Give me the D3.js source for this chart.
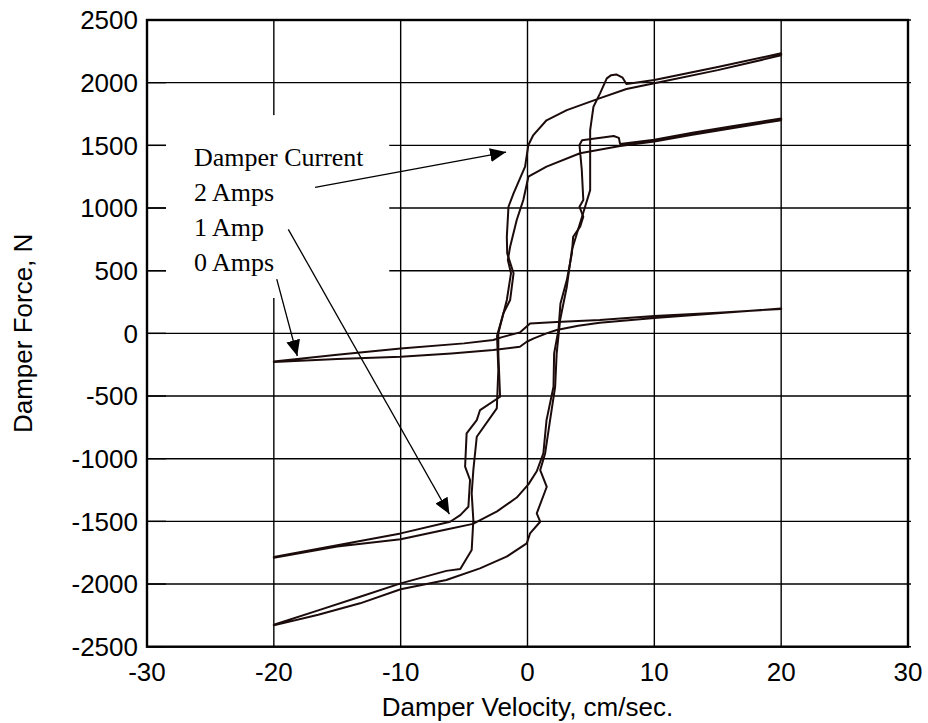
<!DOCTYPE html>
<html>
<head>
<meta charset="utf-8">
<script src="https://cdn.jsdelivr.net/npm/d3@7"></script>
<style>
  body { margin: 0; background: #fff; }
  svg { display: block; }
</style>
</head>
<body>
<div id="chart"></div>
<script>
// axis ticks
var xTicks = [-30, -20, -10, 0, 10, 20, 30];
var yTicks = [-2500, -2000, -1500, -1000, -500, 0, 500, 1000, 1500, 2000, 2500];

// 2 Amps loop, [velocity cm/s, force N]
var amps2Accel = [[-20,-2330],[-16.5,-2245],[-13.2,-2154],[-10,-2042],[-6.4,-1968],[-3.75,-1875],[-1.65,-1782],
  [-0.06,-1676],[0.2,-1596],[1.0,-1503],[0.73,-1436],[1.52,-1224],[1.0,-1091],[1.39,-958],[1.78,-692],
  [2.18,-426],[2.3,-160],[2.57,106],[3.1,372],[3.5,665],[3.9,798],[4.3,930],[4.54,1010],[4.94,1143],
  [4.94,1622],[5.2,1808],[5.72,1915],[6.25,2034],[6.6,2060],[7.0,2066],[7.5,2040],[7.8,1990],
  [10,2021],[15,2125],[20,2234]];
var amps2Decel = [[20,2218],[15,2100],[10,1995],[7.8,1950],[5.67,1875],[3.1,1781],[1.5,1700],[0.46,1582],
  [0.07,1503],[-0.19,1330],[-1.1,1117],[-1.5,1010],[-1.63,771],[-1.6,638],[-1.1,479],[-1.37,266],
  [-1.9,160],[-2.4,-20],[-2.3,-293],[-2.42,-599],[-4.0,-825],[-4.27,-1091],[-4.4,-1277],[-4.27,-1490],
  [-4.4,-1729],[-5.3,-1880],[-6.4,-1895],[-10,-1995],[-13.2,-2101],[-16.5,-2210],[-20,-2325]];

// 1 Amp loop
var amps1Accel = [[-20,-1790],[-15,-1700],[-10,-1643],[-6.4,-1565],[-4.3,-1520],[-2.4,-1420],[-0.85,-1310],
  [0.07,-1205],[0.73,-1100],[1.25,-958],[1.5,-692],[2.05,-426],[2.1,-160],[2.44,27],[2.6,239],[3.1,425],
  [3.5,638],[3.6,771],[4.15,851],[4.4,930],[4.1,1010],[4.4,1064],[4.28,1303],[4.1,1502],[4.3,1540],
  [6.8,1575],[7.2,1560],[7.3,1510],[10,1545],[13,1600],[16,1650],[20,1715]];
var amps1Decel = [[20,1700],[16,1635],[13,1585],[10,1530],[7.3,1495],[4.14,1437],[1.5,1330],[0.5,1275],
  [0.07,1250],[-0.33,1064],[-0.85,904],[-1.37,691],[-1.55,585],[-1.3,480],[-1.63,266],[-2.3,0],
  [-2.3,-160],[-2.16,-506],[-3.74,-612],[-4.0,-692],[-4.8,-798],[-4.92,-1064],[-4.53,-1170],
  [-4.66,-1383],[-5.3,-1450],[-6.1,-1503],[-10,-1596],[-15,-1690],[-20,-1785]];

// 0 Amps loop
var amps0Accel = [[-20,-228],[-15,-205],[-10,-187],[-6,-160],[-2.7,-133],[-0.6,-107],[-0.06,-67],
  [0.5,-40],[1.5,0],[2.3,27],[4,60],[5.7,85],[10,122],[15,160],[20,199]];
var amps0Decel = [[20,195],[15,165],[10,138],[5.7,106],[2.3,90],[0.2,78],[-0.58,8],[-2,-30],
  [-2.7,-53],[-5,-80],[-10,-120],[-15,-170],[-20,-224]];

var loops = [amps2Accel.concat(amps2Decel), amps1Accel.concat(amps1Decel), amps0Accel.concat(amps0Decel)];

// annotation
var noteLines = ["Damper Current", "2 Amps", "1 Amp", "0 Amps"];
var noteX = -26.3;
var noteY = [1335, 1056, 773, 494];
var noteBox = {x0: -28.5, x1: -10.9, y0: 1741, y1: 282};
var arrows = [
  {from: [-16.75, 1165], to: [-1.69, 1446]},
  {from: [-18.86, 830], to: [-6.16, -1442]},
  {from: [-19.77, 433], to: [-18.15, -181]}
];

var width = 928, height = 723;
var plotLeft = 147, plotRight = 908, plotTop = 20, plotBottom = 646.7;
var ink = "#1c0b0b";

var svg = d3.select("#chart").append("svg")
  .attr("width", width)
  .attr("height", height);

var x = d3.scaleLinear().domain([-30, 30]).range([plotLeft, plotRight]);
var y = d3.scaleLinear().domain([-2500, 2500]).range([plotBottom, plotTop]);

// grid
svg.append("g").selectAll("line").data(xTicks).enter().append("line")
  .attr("x1", function(d) { return x(d); }).attr("x2", function(d) { return x(d); })
  .attr("y1", plotTop).attr("y2", plotBottom)
  .attr("stroke", "#000").attr("stroke-width", 1.4);
svg.append("g").selectAll("line").data(yTicks).enter().append("line")
  .attr("x1", plotLeft).attr("x2", plotRight + 3)
  .attr("y1", function(d) { return y(d); }).attr("y2", function(d) { return y(d); })
  .attr("stroke", "#000").attr("stroke-width", 1.4);

// white box behind the note
svg.append("rect")
  .attr("x", x(noteBox.x0)).attr("y", y(noteBox.y0))
  .attr("width", x(noteBox.x1) - x(noteBox.x0))
  .attr("height", y(noteBox.y1) - y(noteBox.y0))
  .attr("fill", "#fff");

// inward ticks on the left
svg.append("g").selectAll("line").data(yTicks).enter().append("line")
  .attr("x1", plotLeft).attr("x2", plotLeft + 19)
  .attr("y1", function(d) { return y(d); }).attr("y2", function(d) { return y(d); })
  .attr("stroke", "#000").attr("stroke-width", 1.4);

// loops
var line = d3.line()
  .x(function(d) { return x(d[0]); })
  .y(function(d) { return y(d[1]); });

svg.append("g").selectAll("path").data(loops).enter().append("path")
  .attr("d", function(d) { return line(d) + "Z"; })
  .attr("fill", "none")
  .attr("stroke", ink)
  .attr("stroke-width", 2)
  .attr("stroke-linejoin", "round");

// frame
svg.append("rect")
  .attr("x", plotLeft).attr("y", plotTop)
  .attr("width", plotRight - plotLeft).attr("height", plotBottom - plotTop)
  .attr("fill", "none").attr("stroke", "#000").attr("stroke-width", 2.4);

// tick labels
svg.append("g").selectAll("text").data(yTicks).enter().append("text")
  .attr("x", plotLeft - 9).attr("y", function(d) { return y(d); })
  .attr("dy", "0.36em")
  .attr("text-anchor", "end")
  .style("font-family", "Liberation Sans, Arial, sans-serif")
  .style("font-size", "26px")
  .text(function(d) { return d; });
svg.append("g").selectAll("text").data(xTicks).enter().append("text")
  .attr("x", function(d) { return x(d); }).attr("y", 681)
  .attr("text-anchor", "middle")
  .style("font-family", "Liberation Sans, Arial, sans-serif")
  .style("font-size", "26px")
  .text(function(d) { return d; });

// axis titles
svg.append("text")
  .attr("x", (plotLeft + plotRight) / 2).attr("y", 716)
  .attr("text-anchor", "middle")
  .style("font-family", "Liberation Sans, Arial, sans-serif")
  .style("font-size", "26px")
  .text("Damper Velocity, cm/sec.");
svg.append("text")
  .attr("transform", "translate(32," + y(0) + ") rotate(-90)")
  .attr("text-anchor", "middle")
  .style("font-family", "Liberation Sans, Arial, sans-serif")
  .style("font-size", "26px")
  .text("Damper Force, N");

// note text
svg.append("g").selectAll("text").data(noteLines).enter().append("text")
  .attr("x", x(noteX))
  .attr("y", function(d, i) { return y(noteY[i]); })
  .style("font-family", "Liberation Serif, Times New Roman, serif")
  .style("font-size", "26px")
  .text(function(d) { return d; });

// arrows
svg.append("defs").append("marker")
  .attr("id", "head")
  .attr("markerUnits", "userSpaceOnUse")
  .attr("viewBox", "0 0 16 14")
  .attr("refX", 16).attr("refY", 7)
  .attr("markerWidth", 16).attr("markerHeight", 14)
  .attr("orient", "auto")
  .append("path")
  .attr("d", "M0,0 L16,7 L0,14 Z")
  .attr("fill", "#000");

svg.append("g").selectAll("line").data(arrows).enter().append("line")
  .attr("x1", function(d) { return x(d.from[0]); })
  .attr("y1", function(d) { return y(d.from[1]); })
  .attr("x2", function(d) { return x(d.to[0]); })
  .attr("y2", function(d) { return y(d.to[1]); })
  .attr("stroke", "#000")
  .attr("stroke-width", 1.3)
  .attr("marker-end", "url(#head)");
</script>
</body>
</html>
